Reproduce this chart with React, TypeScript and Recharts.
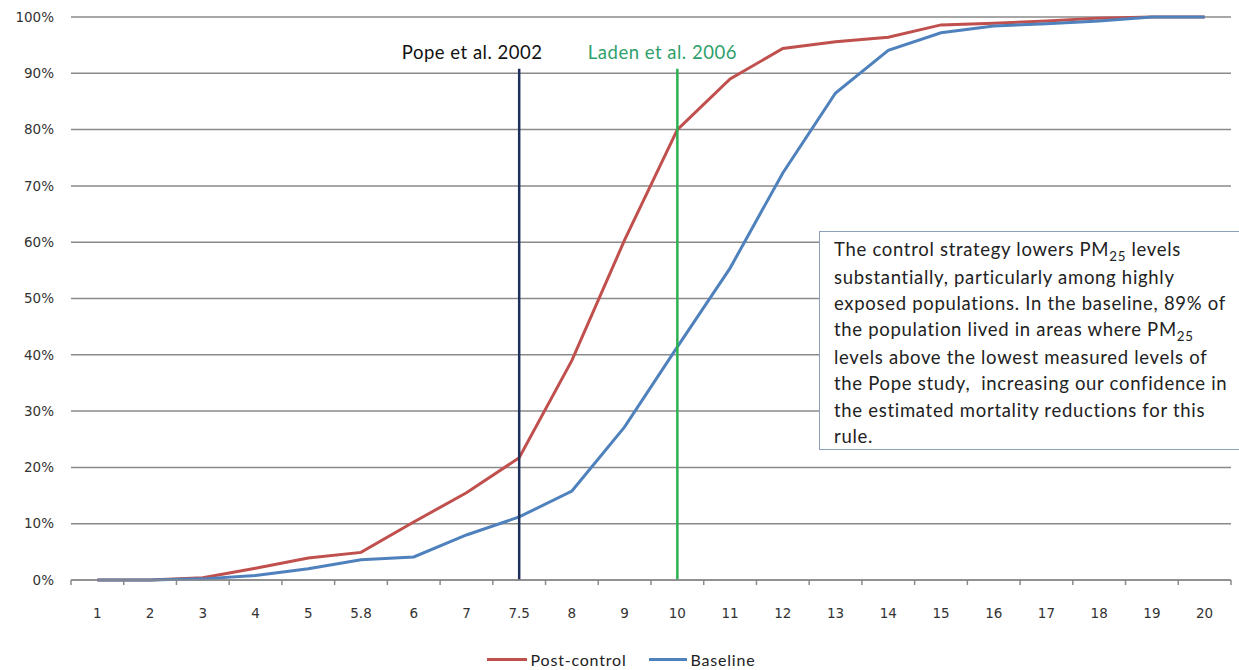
import React from 'react';
import { LineChart, Line, XAxis, YAxis, CartesianGrid, ReferenceLine, ReferenceDot, Legend } from 'recharts';

const categories = ['1', '2', '3', '4', '5', '5.8', '6', '7', '7.5', '8', '9', '10', '11', '12', '13', '14', '15', '16', '17', '18', '19', '20'];
const postControl = [0, 0, 0.004, 0.021, 0.039, 0.049, 0.103, 0.155, 0.217, 0.39, 0.604, 0.8, 0.89, 0.944, 0.956, 0.964, 0.986, 0.989, 0.993, 0.998, 1.0, 1.0];
const baseline = [0, 0, 0.002, 0.008, 0.02, 0.036, 0.041, 0.08, 0.112, 0.158, 0.272, 0.414, 0.554, 0.723, 0.865, 0.941, 0.972, 0.984, 0.988, 0.993, 1.0, 1.0];
const yTicks = [0, 0.1, 0.2, 0.3, 0.4, 0.5, 0.6, 0.7, 0.8, 0.9, 1.0];

const studyLines = [
  { name: 'Pope et al. 2002', x: '7.5', top: 0.908, labelY: 0.938, dx: -47, color: '#1f2f5c', textColor: '#111111' },
  { name: 'Laden et al. 2006', x: '10', top: 0.908, labelY: 0.938, dx: -15, color: '#2bb150', textColor: '#2f9f6c' },
];

const data = categories.map((c, i) => ({ cat: c, post: postControl[i], base: baseline[i] }));

const W = 1239;
const H = 670;
const PLOT_LEFT = 71;
const PLOT_RIGHT = 1231;
const BAND = (PLOT_RIGHT - PLOT_LEFT) / categories.length;

const RED = '#c0504d';
const BLUE = '#4f81bd';
const GRID = '#8a8a8a';
const TICK_FONT = '"DejaVu Sans", sans-serif';
const TEXT_FONT = 'Lato, "Open Sans", sans-serif';

const XTick = (props: any) => {
  const { x, y, payload, index } = props;
  const last = index === categories.length - 1;
  return (
    <g>
      <line x1={x - BAND / 2} x2={x - BAND / 2} y1={y} y2={y + 5} stroke={GRID} strokeWidth={1.5} />
      {last && <line x1={x + BAND / 2} x2={x + BAND / 2} y1={y} y2={y + 5} stroke={GRID} strokeWidth={1.5} />}
      <text x={x} y={y + 33} textAnchor="middle" dominantBaseline="central" fontFamily={TICK_FONT} fontSize={13.5} fill="#333">
        {payload.value}
      </text>
    </g>
  );
};

const LegendContent = () => (
  <div style={{ display: 'flex', justifyContent: 'center', alignItems: 'center', fontFamily: TEXT_FONT, fontSize: 16, letterSpacing: 0.8, color: '#222', marginLeft: 11 }}>
    <span style={{ display: 'inline-block', width: 40, height: 3, background: RED, marginRight: 4 }} />
    <span style={{ marginRight: 22 }}>Post-control</span>
    <span style={{ display: 'inline-block', width: 38, height: 3, background: BLUE, marginRight: 4 }} />
    <span>Baseline</span>
  </div>
);

const Sub = ({ children }: { children: React.ReactNode }) => (
  <span style={{ fontSize: '0.72em', position: 'relative', top: '0.35em' }}>{children}</span>
);

export default function App() {
  return (
    <div style={{ position: 'absolute', left: 0, top: 0, width: W, height: H, overflow: 'hidden', background: '#fff' }}>
      <LineChart width={W} height={H} data={data} margin={{ top: 17, right: W - PLOT_RIGHT, left: 0, bottom: 60 }}>
        <CartesianGrid vertical={false} stroke={GRID} strokeWidth={1.5} />
        <XAxis
          dataKey="cat"
          interval={0}
          tickLine={false}
          tickSize={0}
          tickMargin={0}
          height={30}
          padding={{ left: BAND / 2, right: BAND / 2 }}
          axisLine={{ stroke: GRID, strokeWidth: 1.5 }}
          tick={<XTick />}
        />
        <YAxis
          width={PLOT_LEFT}
          domain={[0, 1]}
          ticks={yTicks}
          axisLine={false}
          tickLine={false}
          tickSize={0}
          tickMargin={17}
          tickFormatter={(v: number) => `${Math.round(v * 100)}%`}
          tick={{ fontFamily: TICK_FONT, fontSize: 13.5, fill: '#333' }}
        />
        <Line type="linear" dataKey="post" name="Post-control" stroke={RED} strokeWidth={3} dot={false} isAnimationActive={false} />
        <Line type="linear" dataKey="base" name="Baseline" stroke={BLUE} strokeWidth={3} dot={false} isAnimationActive={false} />
        {studyLines.map((s) => (
          <ReferenceLine
            key={s.name}
            segment={[{ x: s.x, y: 0 }, { x: s.x, y: s.top }]}
            stroke={s.color}
            strokeWidth={2.5}
          />
        ))}
        {studyLines.map((s) => (
          <ReferenceDot
            key={s.name + '-label'}
            x={s.x}
            y={s.labelY}
            r={0}
            shape={(p: any) => (
              <text x={p.cx + s.dx} y={p.cy} textAnchor="middle" dominantBaseline="central" fontFamily={TEXT_FONT} fontSize={18.5} letterSpacing={0.5} fill={s.textColor}>
                {s.name}
              </text>
            )}
          />
        ))}
        <Legend verticalAlign="bottom" content={<LegendContent />} wrapperStyle={{ height: 0, overflow: 'visible', bottom: 20 }} />
      </LineChart>
      <div
        style={{
          position: 'absolute',
          left: 819,
          top: 231,
          width: 440,
          height: 219,
          border: '1.5px solid #8da0ba',
          background: '#fff',
          boxSizing: 'border-box',
          padding: '4px 0 0 14px',
          fontFamily: TEXT_FONT,
          fontSize: 18.5,
          letterSpacing: 0.7,
          lineHeight: '26.1px',
          color: '#222',
          whiteSpace: 'pre',
        }}
      >
        The control strategy lowers PM<Sub>25</Sub> levels{'\n'}
        substantially, particularly among highly{'\n'}
        exposed populations. In the baseline, 89% of{'\n'}
        the population lived in areas where PM<Sub>25</Sub>{'\n'}
        levels above the lowest measured levels of{'\n'}
        the Pope study,  increasing our confidence in{'\n'}
        the estimated mortality reductions for this{'\n'}
        rule.
      </div>
    </div>
  );
}
